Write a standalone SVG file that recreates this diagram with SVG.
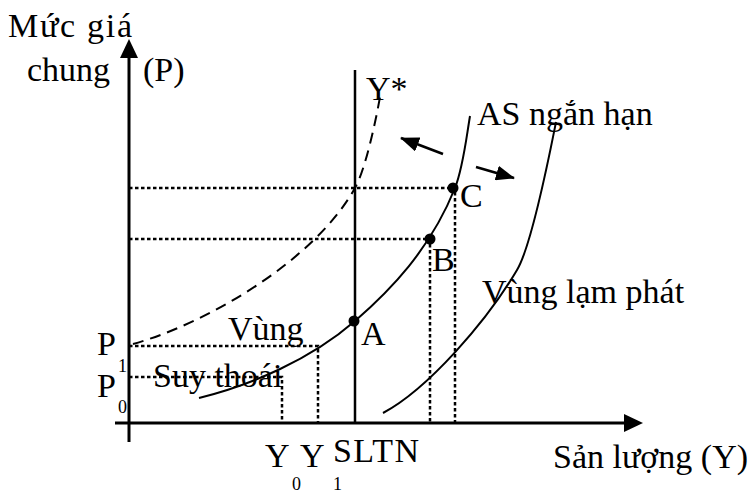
<svg xmlns="http://www.w3.org/2000/svg" width="750" height="493" viewBox="0 0 750 493">
<style>
text{font-family:"Liberation Serif","Times New Roman",serif;font-size:34px;fill:#000}
.sub{font-size:18px}
.axis{stroke:#000;stroke-width:3;fill:none}
.dot{stroke:#000;stroke-width:2.5;stroke-dasharray:3.5 2.5;fill:none}
.curve{stroke:#000;stroke-width:2;fill:none}
.dash{stroke:#000;stroke-width:2;stroke-dasharray:11 7;fill:none}
</style>
<defs>
<marker id="ah" markerWidth="19" markerHeight="15" refX="18" refY="7.5" orient="auto" markerUnits="userSpaceOnUse">
<path d="M0,0 L19,7.5 L0,15 Z" fill="#000"/>
</marker>
</defs>
<g id="axes">
<line class="axis" x1="129" y1="442" x2="129" y2="56"/>
<path d="M120,58 L129,39 L138,58 Z" fill="#000"/>
<line class="axis" x1="115" y1="423" x2="626" y2="423"/>
<path d="M624,414 L643,423 L624,432 Z" fill="#000"/>
</g>
<g id="guides">
<path class="dot" d="M129,346 H318 V423"/>
<path class="dot" d="M129,377 H282 V423"/>
<path class="dot" d="M129,239 H430 V423"/>
<path class="dot" d="M129,188 H455 V423"/>
</g>
<g id="curves">
<line x1="355" y1="70" x2="355" y2="423" stroke="#000" stroke-width="2.5"/>
<path class="dash" d="M133,344 C208,323 315,260 355,188 C365,170 375,125 380,97"/>
<path class="curve" d="M199,398 C251,385 310,360 355,321 C390,290.5 430,250 455,188 C463,168 466,140 470,116"/>
<path class="curve" d="M383,413 C428,389 487,321 517,270 C532,245 550,152 556,122"/>
</g>
<g id="connectors">
<line x1="443" y1="154" x2="401" y2="138" stroke="#000" stroke-width="2.5" marker-end="url(#ah)"/>
<line x1="476" y1="167" x2="514" y2="178" stroke="#000" stroke-width="2.5" marker-end="url(#ah)"/>
</g>
<g id="points">
<circle cx="354" cy="321" r="5.5"/>
<circle cx="430" cy="239" r="5.5"/>
<circle cx="453" cy="188" r="5.5"/>
</g>
<g id="labels">
<text x="8" y="37" textLength="124">Mức giá</text>
<text x="27" y="81">chung</text>
<text x="143" y="81">(P)</text>
<text x="366" y="100">Y*</text>
<text x="477" y="125">AS ngắn hạn</text>
<text x="460" y="207">C</text>
<text x="432" y="271">B</text>
<text x="361" y="345">A</text>
<text x="482" y="303">Vùng lạm phát</text>
<text x="228" y="340">Vùng</text>
<text x="153" y="387">Suy thoái</text>
<text x="97" y="355">P</text>
<text class="sub" x="118" y="372">1</text>
<text x="97" y="397">P</text>
<text class="sub" x="118" y="413">0</text>
<text x="265" y="467">Y</text>
<text class="sub" x="292" y="490">0</text>
<text x="300" y="467">Y</text>
<text class="sub" x="333" y="490">1</text>
<text x="333" y="462" textLength="86">SLTN</text>
<text x="553" y="468">Sản lượng (Y)</text>
</g>
</svg>
